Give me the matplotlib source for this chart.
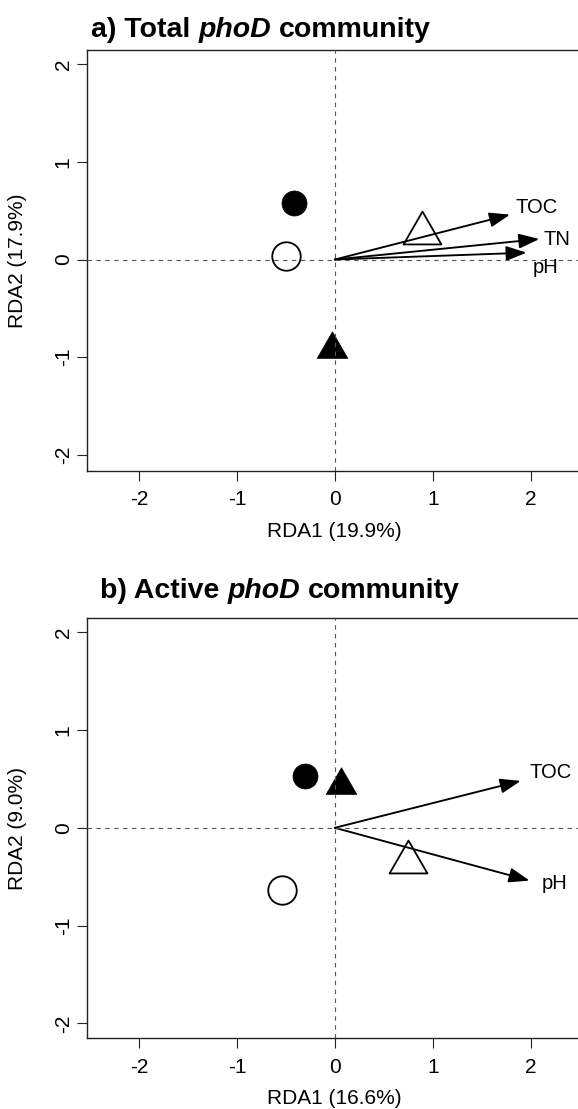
import matplotlib
matplotlib.use("Agg")
import matplotlib.pyplot as plt
from matplotlib.path import Path

plt.rcParams['font.family'] = ['Liberation Sans', 'DejaVu Sans']

# treatment scores, order: filled circle, open circle, filled triangle, open triangle
total_x = [-0.42, -0.50, -0.03, 0.89]
total_y = [0.58, 0.04, -0.92, 0.27]
active_x = [-0.30, -0.54, 0.06, 0.75]
active_y = [0.53, -0.64, 0.44, -0.35]

# environmental vectors
total_env = ['TOC', 'TN', 'pH']
total_env_x = [1.79, 2.09, 1.96]
total_env_y = [0.46, 0.21, 0.07]
active_env = ['TOC', 'pH']
active_env_x = [1.90, 1.99]
active_env_y = [0.48, -0.54]

xticks = [-2, -1, 0, 1, 2]
yticks = [-2, -1, 0, 1, 2]

# triangle centred on its centroid (like R pch 2/17)
tri = Path([(0, 1), (0.866, -0.5), (-0.866, -0.5), (0, 1)], closed=True)
marker_styles = [
    dict(marker='o', ms=18, mfc='black', mec='black', mew=0.5),
    dict(marker='o', ms=20.5, mfc='none', mec='black', mew=1.3),
    dict(marker=tri, ms=25.5, mfc='black', mec='black', mew=0.5),
    dict(marker=tri, ms=31.5, mfc='none', mec='black', mew=1.3),
]

W, H = 578, 1109
fig = plt.figure(figsize=(W / 100, H / 100), dpi=100)


def px(x0, top, bottom):
    return [x0 / W, 1 - bottom / H, 1 - x0 / W, (bottom - top) / H]


def draw_panel(ax, xs, ys, env, ex, ey, lab_off, ylim, xlab, ylab):
    ax.axhline(0, color='#555555', lw=0.8, ls=(0, (4, 4)), zorder=5)
    ax.axvline(0, color='#555555', lw=0.8, ls=(0, (4, 4)), zorder=5)
    for x, y, st in zip(xs, ys, marker_styles):
        ax.plot([x], [y], ls='none', zorder=3, **st)
    for name, x, y in zip(env, ex, ey):
        ax.annotate('', xy=(x, y), xytext=(0, 0),
                    arrowprops=dict(arrowstyle='-|>,head_length=1.25,head_width=0.45',
                                    mutation_scale=10, lw=1.35, color='black',
                                    shrinkA=0, shrinkB=0), zorder=4)
        dx, dy = lab_off[name]
        ax.annotate(name, xy=(x, y), xytext=(dx, dy), textcoords='offset points',
                    ha='center', va='center', fontsize=14.5)
    ax.set_xlim(-2.53, 2.485)
    ax.set_ylim(*ylim)
    ax.set_xticks(xticks)
    ax.set_xticklabels([str(t) for t in xticks])
    ax.set_yticks(yticks)
    ax.set_yticklabels([str(t) for t in yticks], rotation=90, va='center')
    ax.tick_params(axis='both', direction='out', length=7.5, width=0.8, labelsize=15, color='#222222')
    ax.tick_params(axis='x', pad=6.5)
    ax.tick_params(axis='y', pad=3)
    ax.spines['right'].set_visible(False)
    for s in ['left', 'bottom', 'top']:
        ax.spines[s].set_linewidth(1.0)
        ax.spines[s].set_color('#222222')
    ax.set_xlabel(xlab, fontsize=15)
    ax.set_ylabel(ylab, fontsize=15)
    ax.xaxis.set_label_coords(0.504, -0.121)
    ax.yaxis.set_label_coords(-0.123, 0.5)


def title(x0, base, parts, size=20.5):
    renderer = fig.canvas.get_renderer()
    x = x0 / W
    gap = 0.278 * size * 100 / 72 / W
    for text, style in parts:
        t = fig.text(x, 1 - base / H, text, fontsize=size, fontweight='bold',
                     fontstyle=style, ha='left', va='baseline')
        x += t.get_window_extent(renderer).width / W + gap


ax1 = fig.add_axes(px(87.3, 50, 471))
draw_panel(ax1, total_x, total_y, total_env, total_env_x, total_env_y,
           {'TOC': (19, 5), 'TN': (12.5, 0), 'pH': (13.5, -10.5)},
           (-2.167, 2.147), 'RDA1 (19.9%)', 'RDA2 (17.9%)')
title(91, 37, [('a) Total', 'normal'), ('phoD', 'italic'), ('community', 'normal')])

ax2 = fig.add_axes(px(87.3, 618.3, 1038.3))
draw_panel(ax2, active_x, active_y, active_env, active_env_x, active_env_y,
           {'TOC': (21.5, 6), 'pH': (18, -2)},
           (-2.153, 2.143), 'RDA1 (16.6%)', 'RDA2 (9.0%)')
title(100, 598.3, [('b) Active', 'normal'), ('phoD', 'italic'), ('community', 'normal')])

fig.savefig('out.png', dpi=100)
